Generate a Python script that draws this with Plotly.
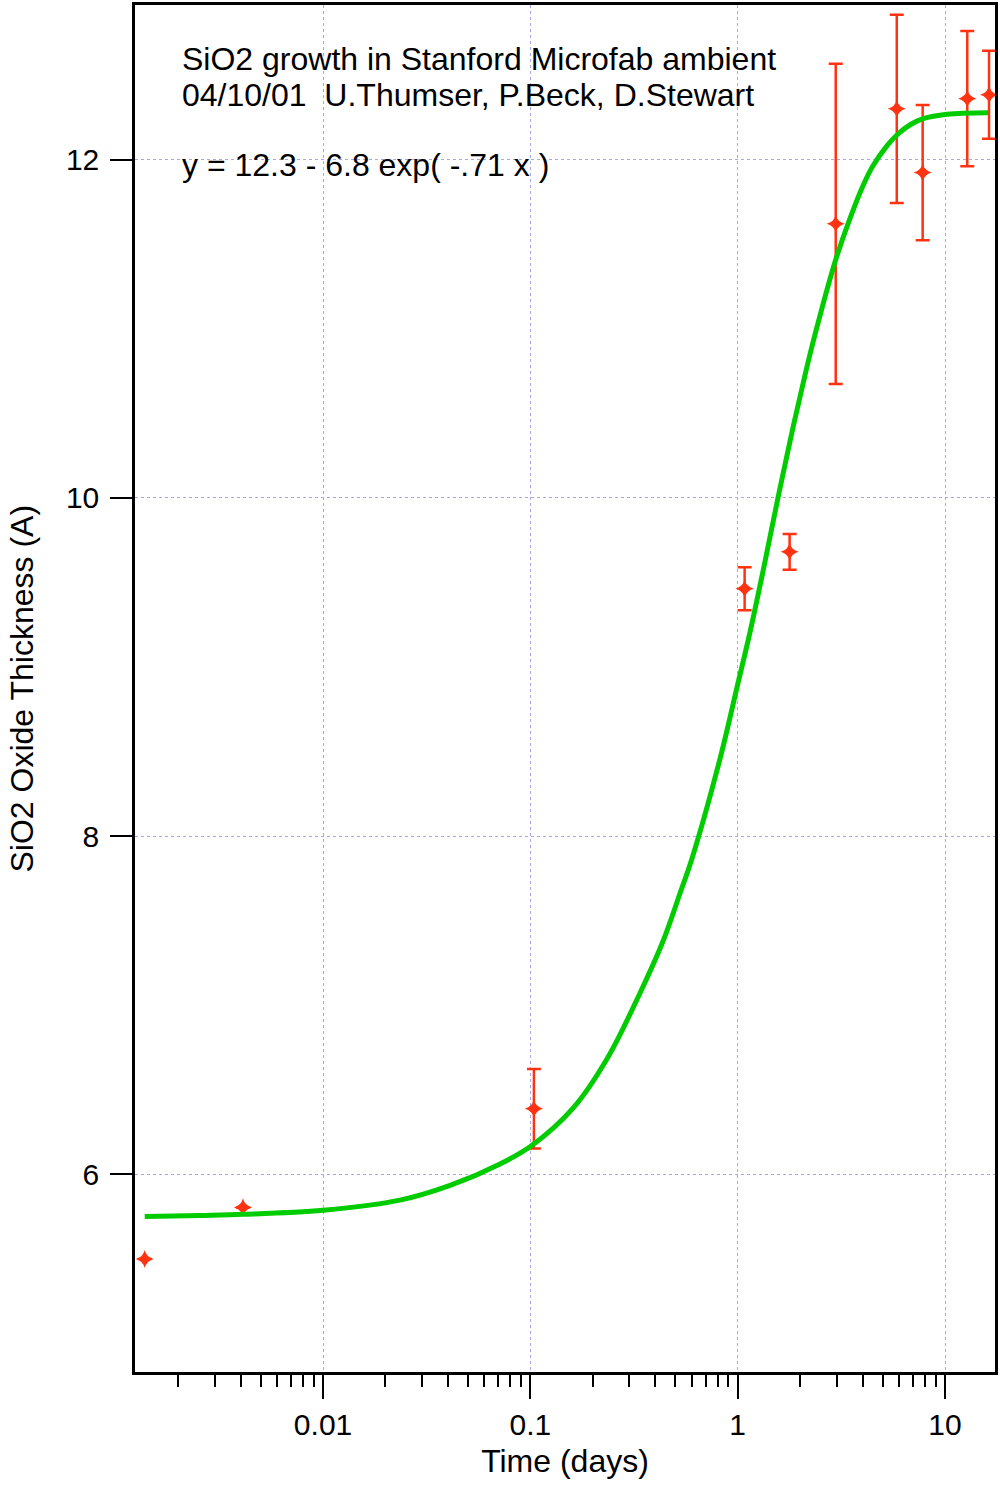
import plotly.graph_objects as go

# measured oxide thickness (A) vs time (days)
time_days = [0.00138, 0.00411, 0.104, 1.08, 1.78, 2.97, 5.85, 7.8, 12.8, 16.3]
thickness = [5.50, 5.805, 6.389, 9.463, 9.681, 11.62, 12.30, 11.923, 12.36, 12.383]
thickness_err = [0, 0, 0.235, 0.127, 0.106, 0.947, 0.557, 0.40, 0.40, 0.26]

# fit curve
fit_time = [0.00138, 0.00255, 0.00411, 0.01, 0.0235, 0.041, 0.0714, 0.1008, 0.1607,
            0.2344, 0.338, 0.4366, 0.5275, 0.6025, 0.8225, 1.0, 1.148, 1.326, 1.566,
            1.85, 2.068, 2.235, 2.443, 2.951, 3.485, 4.026, 4.5, 5.256, 5.874, 6.786,
            7.842, 10.23, 16.14]
fit_thickness = [5.752, 5.758, 5.764, 5.788, 5.848, 5.935, 6.062, 6.168, 6.392,
                 6.684, 7.073, 7.38, 7.664, 7.870, 8.460, 8.897, 9.209, 9.569, 10.003,
                 10.419, 10.678, 10.852, 11.036, 11.397, 11.654, 11.847, 11.965, 12.083,
                 12.147, 12.206, 12.242, 12.268, 12.277]

x_ticks = [0.01, 0.1, 1, 10]
x_tick_text = ["0.01", "0.1", "1", "10"]
y_ticks = [6, 8, 10, 12]

notes = [
    "SiO2 growth in Stanford Microfab ambient",
    "04/10/01  U.Thumser, P.Beck, D.Stewart",
    "y = 12.3 - 6.8 exp( -.71 x )",
]

RED = "#ff3311"
GREEN = "#00cc00"
GRID = "#a8a8e8"
FONT = "Arial, Liberation Sans, sans-serif"

fig = go.Figure()

fig.add_trace(
    go.Scatter(
        x=time_days,
        y=thickness,
        mode="markers",
        marker={"symbol": "star-diamond", "size": 13, "color": RED},
        error_y={
            "type": "data",
            "array": thickness_err,
            "visible": True,
            "color": RED,
            "thickness": 2.5,
            "width": 7,
        },
        showlegend=False,
    )
)

fig.add_trace(
    go.Scatter(
        x=fit_time,
        y=fit_thickness,
        mode="lines",
        line={"color": GREEN, "width": 5, "shape": "spline", "smoothing": 1.0},
        showlegend=False,
    )
)

# white box behind the text block, hides gridlines
fig.add_shape(
    type="rect", xref="paper", yref="paper",
    x0=0.05, x1=0.756, y0=0.8628, y1=0.9723,
    fillcolor="white", line={"width": 0}, layer="between",
)

for text, y in zip(notes, [0.9607, 0.9344, 0.8833]):
    fig.add_annotation(
        text=text, xref="paper", yref="paper", x=0.0523, y=y,
        xanchor="left", yanchor="middle", showarrow=False,
        font={"size": 32, "color": "black", "family": FONT},
    )

# y axis title, placed by hand (further out than plotly's standoff allows)
fig.add_annotation(
    text="SiO2 Oxide Thickness (A)", xref="paper", yref="paper",
    x=-0.1314, y=0.5, xanchor="center", yanchor="middle",
    textangle=-90, showarrow=False,
    font={"size": 32, "color": "black", "family": FONT},
)

fig.update_layout(
    width=1000,
    height=1488,
    margin={"l": 135, "r": 5, "t": 2, "b": 116},
    paper_bgcolor="white",
    plot_bgcolor="white",
    font={"family": FONT, "size": 30, "color": "black"},
)

fig.update_xaxes(
    type="log",
    range=[-2.907, 1.241],
    tickvals=x_ticks,
    ticktext=x_tick_text,
    ticks="outside",
    ticklen=24,
    tickwidth=2,
    tickcolor="black",
    tickfont={"size": 30},
    minor={"ticks": "outside", "ticklen": 12, "tickwidth": 2, "tickcolor": "black",
           "dtick": "D1", "showgrid": False},
    showline=True,
    linecolor="black",
    linewidth=2.5,
    mirror=True,
    showgrid=True,
    gridcolor=GRID,
    griddash="dot",
    gridwidth=1,
    zeroline=False,
    title={"text": "Time (days)", "font": {"size": 32}, "standoff": 10},
)

fig.update_yaxes(
    range=[4.832, 12.914],
    tickvals=y_ticks,
    ticks="outside",
    ticklen=22,
    tickwidth=2,
    tickcolor="black",
    tickfont={"size": 30},
    ticklabelstandoff=5,
    showline=True,
    linecolor="black",
    linewidth=2.5,
    mirror=True,
    showgrid=True,
    gridcolor=GRID,
    griddash="dot",
    gridwidth=1,
    zeroline=False,
)

fig.write_html(
    "out.html",
    config={"displayModeBar": False},
    post_script="document.body.style.margin = '0';",
)
